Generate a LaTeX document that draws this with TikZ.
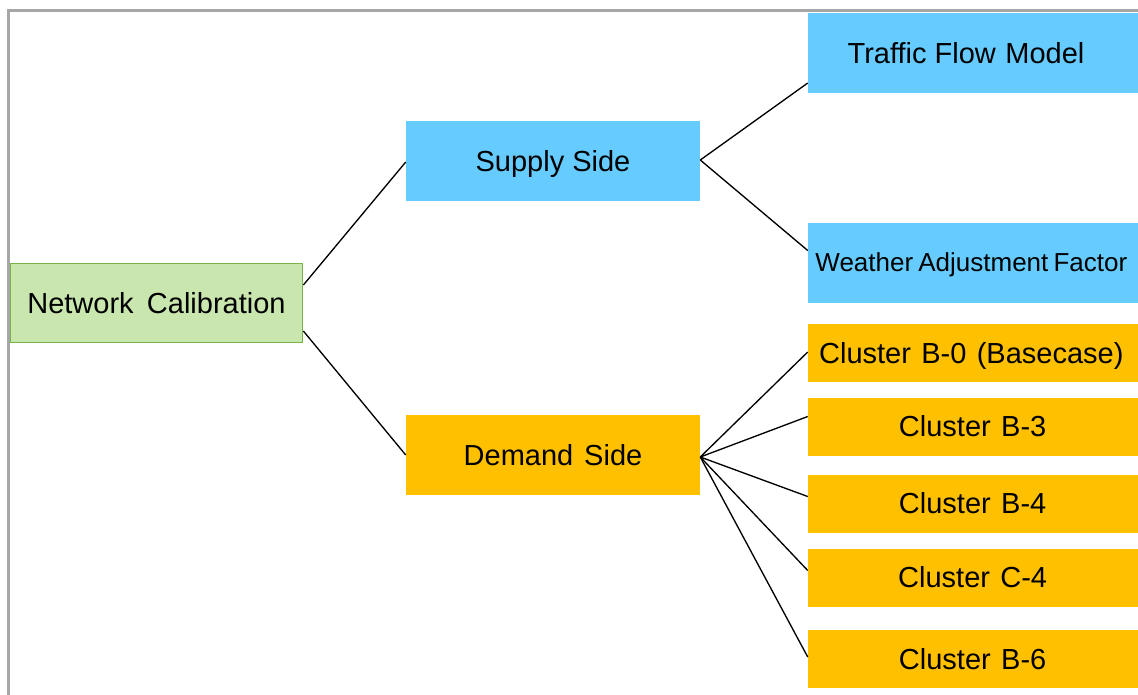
\documentclass[tikz,border=0pt]{standalone}
\usepackage{fontspec}
\setmainfont{Liberation Sans}
\usetikzlibrary{calc}
\definecolor{frameGray}{HTML}{A6A6A6}
\definecolor{rootFill}{HTML}{C9E6AE}
\definecolor{rootLine}{HTML}{78B446}
\definecolor{supplyBlue}{HTML}{66CCFF}
\definecolor{demandGold}{HTML}{FFC000}
\begin{document}
\begin{tikzpicture}[x=0.75pt,y=-0.75pt,
  box/.style={rectangle,inner sep=0pt,text=black,
    font=\fontsize{21.75}{26}\selectfont,text height=15.6pt,text depth=0pt},
  rootbox/.style={box,fill=rootFill,draw=rootLine,line width=1.3pt,
    minimum width=292*0.75pt,minimum height=79*0.75pt},
  midbox/.style={box,minimum width=294*0.75pt,minimum height=80*0.75pt},
  leafbox/.style={box,minimum width=332*0.75pt,minimum height=80*0.75pt},
  clusterbox/.style={box,fill=demandGold,minimum width=332*0.75pt,minimum height=58*0.75pt},
  link/.style={draw=black,line width=1pt}]
\useasboundingbox (0,0) rectangle (1138,694);
\fill[white] (0,0) rectangle (1138,694);
% outer frame (only top and left edges fall inside the page)
\draw[frameGray,line width=2.25pt] (8.5,700) -- (8.5,10.5) -- (1145,10.5);

% root
\node[rootbox] (nc) at (156.5,303) {Network\hspace{0.18em} Calibration};

% second level
\node[midbox,fill=supplyBlue] (sup) at (553,161) {Supply Side};
\node[midbox,fill=demandGold] (dem) at (553,455) {Demand\hspace{0.1em} Side};

% supply leaves
\node[leafbox,fill=supplyBlue] (tfm) at (974,53) {\hspace{-12pt}Traffic Flow\hspace{0.05em} Model};
\node[leafbox,fill=supplyBlue,font=\fontsize{19.5}{24}\selectfont,
  text height=14pt] (waf) at (974,262.5) {\hspace{-4pt}Weather\hspace{-0.08em} Adjustment\hspace{-0.08em} Factor};

% demand leaves
\node[clusterbox] (b0) at (974,353) {\hspace{-4pt}Cluster\hspace{0.08em} B-0\hspace{0.08em} (Basecase)};
\node[clusterbox] (b3) at (974,426.5) {\hspace{-2pt}Cluster\hspace{0.08em} B-3};
\node[clusterbox] (b4) at (974,503.5) {\hspace{-2pt}Cluster\hspace{0.08em} B-4};
\node[clusterbox] (c4) at (974,577.5) {\hspace{-2pt}Cluster\hspace{0.08em} C-4};
\node[clusterbox] (b6) at (974,659) {\hspace{-2pt}Cluster\hspace{0.08em} B-6};

% connectors
\path[link] ($(nc.east)+(0,-18)$) -- ($(sup.west)+(0,1)$);
\path[link] ($(nc.east)+(0,28)$) -- (dem.west);
\path[link] ($(sup.east)+(0,-1)$) -- ($(tfm.west)+(0,30)$);
\path[link] ($(sup.east)+(0,-1)$) -- ($(waf.west)+(0,-12)$);
\path[link] ($(dem.east)+(0,2)$) -- ($(b0.west)+(0,-1)$);
\path[link] ($(dem.east)+(0,2)$) -- ($(b3.west)+(0,-10)$);
\path[link] ($(dem.east)+(0,2)$) -- ($(b4.west)+(0,-7)$);
\path[link] ($(dem.east)+(0,2)$) -- ($(c4.west)+(0,-7)$);
\path[link] ($(dem.east)+(0,2)$) -- ($(b6.west)+(0,-2)$);
\end{tikzpicture}
\end{document}
